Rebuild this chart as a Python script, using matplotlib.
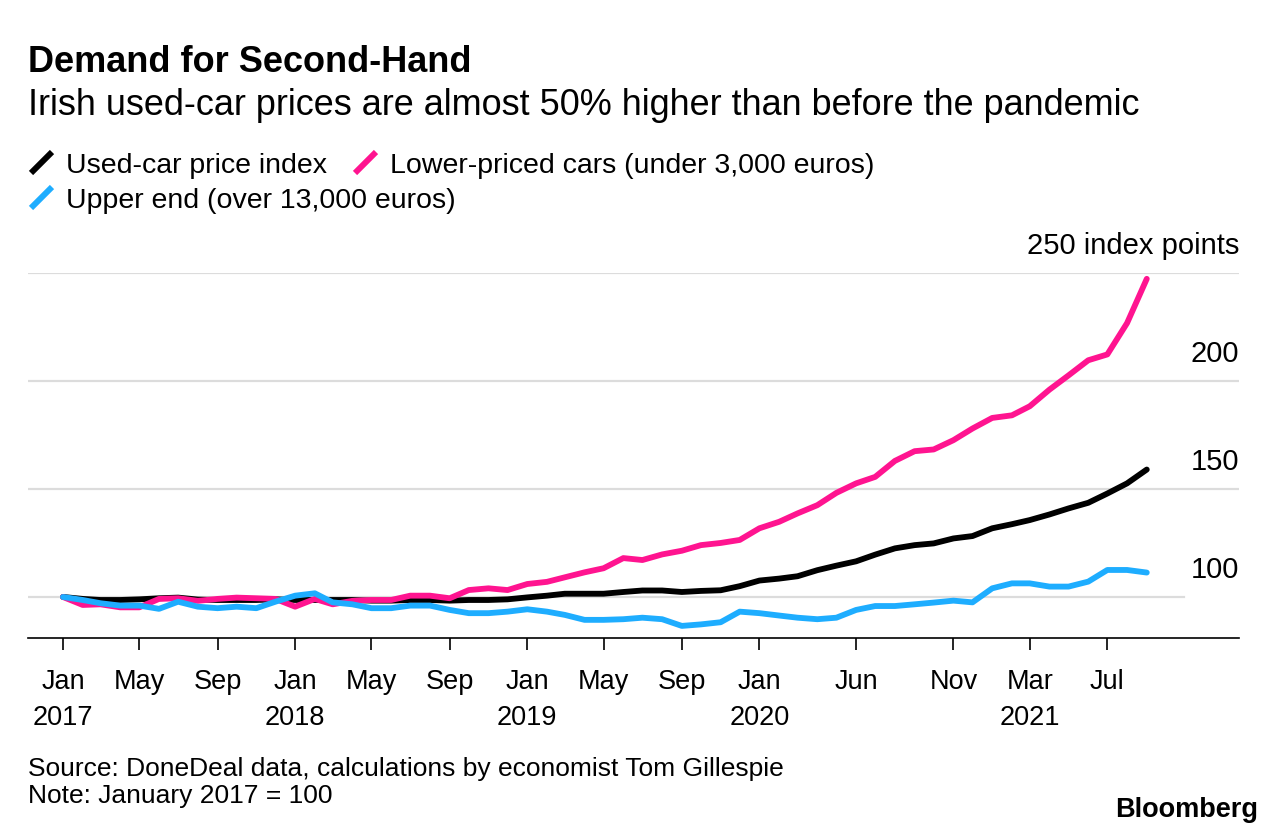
import matplotlib
matplotlib.use('Agg')
import matplotlib.pyplot as plt
from matplotlib.lines import Line2D
import pandas as pd

plt.rcParams['font.family'] = ['Liberation Sans', 'DejaVu Sans']

# Data (monthly index, Jan 2017 = 100)
months = pd.date_range('2017-01-01', periods=57, freq='MS')

used_car = [100, 99.1, 98.6, 98.6, 98.9, 99.4, 99.7, 98.8, 98.6, 98.6, 98.6, 98.9,
            98.6, 98.6, 98.6, 98.6, 98.3, 98.3, 98.6, 98.6, 98.3, 98.6, 98.6, 98.9,
            99.8, 100.6, 101.5, 101.5, 101.5, 102.3, 103, 103, 102.3, 102.8, 103.1, 105,
            107.6, 108.5, 109.6, 112.4, 114.5, 116.5, 119.6, 122.5, 124, 124.8, 127.1, 128.2,
            131.8, 133.7, 135.6, 138.2, 141, 143.6, 147.9, 152.6, 159]

lower_priced = [100, 96.3, 96.6, 95.2, 95.2, 99.1, 99.4, 98.2, 99.1, 99.7, 99.4, 99.1,
                95.5, 99.1, 96.6, 98.2, 98.6, 98.6, 100.6, 100.6, 99.4, 103.2, 104, 103.2,
                106, 107, 109.1, 111.4, 113.3, 118, 117.1, 119.7, 121.4, 124, 125, 126.4,
                131.8, 134.8, 138.7, 142.5, 148.2, 152.6, 155.6, 163, 167.5, 168.3, 172.6, 178,
                182.9, 184.1, 188.3, 196, 202.6, 209.6, 212.3, 226.8, 247.3]

upper_end = [100, 98.6, 97.1, 96, 96, 94.5, 97.8, 95.5, 94.8, 95.5, 94.8, 97.8,
             100.6, 101.7, 97.5, 96.6, 94.8, 94.8, 96, 96, 94, 92.5, 92.5, 93.2,
             94.3, 93.2, 91.7, 89.4, 89.4, 89.7, 90.4, 89.7, 86.6, 87.3, 88.3, 93.2,
             92.5, 91.4, 90.4, 89.7, 90.4, 94, 95.8, 95.8, 96.6, 97.4, 98.3, 97.5,
             104, 106.3, 106.3, 104.8, 104.8, 107.1, 112.5, 112.5, 111.3]

tick_dates = pd.to_datetime(['2017-01-01', '2017-05-01', '2017-09-01', '2018-01-01',
                             '2018-05-01', '2018-09-01', '2019-01-01', '2019-05-01',
                             '2019-09-01', '2020-01-01', '2020-06-01', '2020-11-01',
                             '2021-03-01', '2021-07-01'])
tick_labels = ['Jan\n2017', 'May', 'Sep', 'Jan\n2018', 'May', 'Sep', 'Jan\n2019', 'May',
               'Sep', 'Jan\n2020', 'Jun', 'Nov', 'Mar\n2021', 'Jul']

y_levels = [100, 150, 200, 250]
y_labels = ['100', '150', '200', '250 index points']

BLACK = '#000000'
PINK = '#ff1490'
BLUE = '#1eadff'
GRID = '#dcdcdc'

W, H = 1286, 838
fig = plt.figure(figsize=(W / 100, H / 100), dpi=100)
fig.patch.set_facecolor('white')


def fx(px):
    return px / W


def fy(py):
    return 1 - py / H


ax = fig.add_axes([fx(28), fy(638), fx(1239 - 28), (638 - 273) / H])

# gridlines
for v in y_levels:
    xmax = (1184 - 28) / (1239 - 28) if v == 100 else 1.0
    ax.axhline(v, xmin=0, xmax=xmax, color=GRID, lw=1.6, zorder=1)

ax.plot(months, used_car, color=BLACK, lw=4.2, solid_capstyle='round', zorder=3)
ax.plot(months, lower_priced, color=PINK, lw=4.2, solid_capstyle='round', zorder=4)
ax.plot(months, upper_end, color=BLUE, lw=4.2, solid_capstyle='round', zorder=5)

ax.set_xlim(pd.Timestamp('2016-11-07'), pd.Timestamp('2022-01-24'))
ax.set_ylim(81, 250)

for s in ['top', 'right', 'left']:
    ax.spines[s].set_visible(False)
ax.spines['bottom'].set_linewidth(1.2)
ax.spines['bottom'].set_color(BLACK)

ax.set_yticks([])
ax.set_xticks(tick_dates)
ax.set_xticklabels(tick_labels, fontsize=19.5, linespacing=1.5)
ax.tick_params(axis='x', length=8.6, width=1.2, color=BLACK, pad=14)

for v, lab in zip(y_levels, y_labels):
    ax.annotate(lab, xy=(1, v), xycoords=('axes fraction', 'data'),
                xytext=(0, 13.7), textcoords='offset points',
                ha='right', va='baseline', fontsize=21)

# titles
fig.text(fx(28), fy(72), 'Demand for Second-Hand', fontsize=26, fontweight='bold',
         ha='left', va='baseline')
fig.text(fx(28), fy(115),
         'Irish used-car prices are almost 50% higher than before the pandemic',
         fontsize=25.9, ha='left', va='baseline')

# legend
legend_items = [
    (BLACK, 30, 173, 'Used-car price index'),
    (PINK, 354, 173, 'Lower-priced cars (under 3,000 euros)'),
    (BLUE, 30, 208, 'Upper end (over 13,000 euros)'),
]
for color, x0, base, label in legend_items:
    fig.add_artist(Line2D([fx(x0 + 1), fx(x0 + 22)], [fy(base), fy(base - 21)],
                          color=color, lw=4.3, solid_capstyle='butt'))
    fig.text(fx(x0 + 36), fy(base), label, fontsize=20.5, ha='left', va='baseline')

# footer
fig.text(fx(28), fy(776), 'Source: DoneDeal data, calculations by economist Tom Gillespie',
         fontsize=19, ha='left', va='baseline')
fig.text(fx(28), fy(803), 'Note: January 2017 = 100', fontsize=19, ha='left', va='baseline')
fig.text(fx(1258), fy(817), 'Bloomberg', fontsize=19.5, fontweight='bold',
         ha='right', va='baseline')

fig.savefig('out.png', dpi=100)
